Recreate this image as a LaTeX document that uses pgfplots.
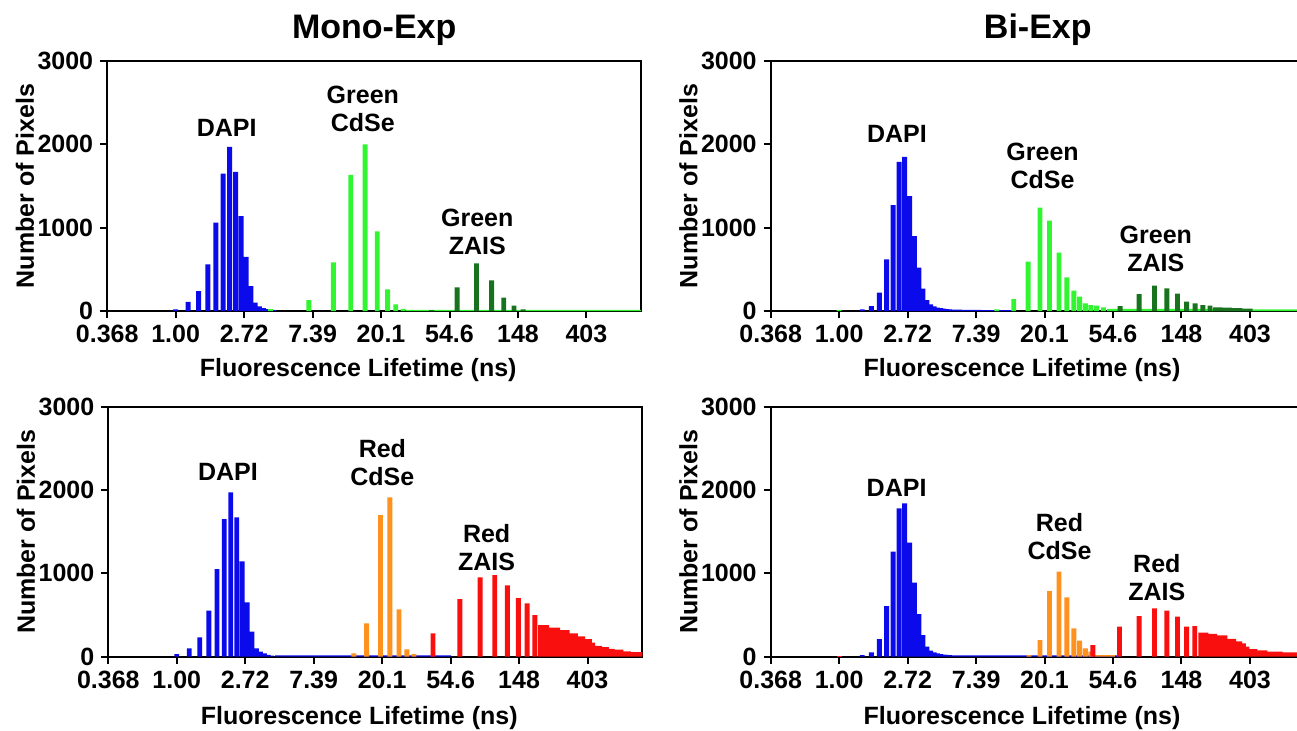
\documentclass[border=0pt]{standalone}
\usepackage{fontspec}
\setmainfont{Liberation Sans}
\usepackage{pgfplots}
\pgfplotsset{compat=1.18}

\definecolor{dapi}{RGB}{10,10,235}
\definecolor{gcdse}{RGB}{50,245,50}
\definecolor{gzais}{RGB}{25,115,30}
\definecolor{rcdse}{RGB}{255,145,30}
\definecolor{rzais}{RGB}{250,15,15}

\newcommand{\lab}{\bfseries\fontsize{12.5}{14}\selectfont}

\tikzset{ann/.style={font=\lab, align=center}}

\pgfplotsset{
  hbar/.style={ybar, bar width=2.45pt, bar shift=0pt, draw=none},
  tailfill/.style={const plot, draw=none},
  flim/.style={
    scale only axis, width=267pt, height=125pt,
    xmin=0.36788, xmax=897.8, ymin=0, ymax=3000,
    xtick={0.36788,1,2.71828,7.38906,20.0855,54.5982,148.413,403.429},
    xticklabels={0.368,1.00,2.72,7.39,20.1,54.6,148,403},
    xminorticks=false,
    ytick={0,1000,2000,3000}, yticklabels={0,1000,2000,3000},
    tick align=outside, xtick pos=left, ytick pos=left,
    major tick length=3.5pt,
    every tick/.style={black, line width=1pt},
    axis line style={line width=1pt},
    tick label style={font=\lab},
    xlabel={Fluorescence Lifetime (ns)},
    ylabel={Number of Pixels},
    every axis x label/.style={at={(axis description cs:0.47,-0.236)}, anchor=center, font=\lab},
    every axis y label/.style={at={(axis description cs:-0.154,0.5)}, rotate=90, anchor=center, font=\lab},
    every axis title/.style={at={(axis description cs:0.5,1.124)}, anchor=center,
      font=\bfseries\fontsize{17}{20}\selectfont},
  },
  % right-hand panels run past the picture's edge, as in the original
  wide/.style={width=272pt, xmax=1039,
    every axis x label/.style={at={(axis description cs:0.462,-0.236)}, anchor=center, font=\lab},
    every axis y label/.style={at={(axis description cs:-0.151,0.5)}, rotate=90, anchor=center, font=\lab},
    every axis title/.style={at={(axis description cs:0.491,1.124)}, anchor=center,
      font=\bfseries\fontsize{17}{20}\selectfont}},
}

\begin{document}
\begin{tikzpicture}
\useasboundingbox (0,0) rectangle (648.5pt,-365pt);

% ---------- Mono-Exp, green ----------
\begin{axis}[xmode=log, flim, at={(53.6pt,-155.5pt)}, title={Mono-Exp}]
\addplot[hbar, fill=dapi] coordinates {
  (1.0,20) (1.2,110) (1.4,240) (1.6,560) (1.8,1060) (2.0,1650) (2.2,1970)
  (2.4,1670) (2.6,1140) (2.8,650) (3.0,300) (3.2,100) (3.4,55) (3.6,35)
  (3.8,22) (4.0,14) (4.2,10)
};
\addplot[tailfill, fill=gcdse] coordinates {(29,15) (900,15)} \closedcycle;
\addplot[hbar, fill=gcdse] coordinates {
  (4.0,24) (7.0,130) (10.0,585) (12.9,1635) (15.9,2000) (19.0,955)
  (22.1,260) (24.9,80) (27.7,25)
};
\addplot[hbar, fill=gzais] coordinates {
  (42,12) (61,285) (81,572) (101,368) (120.5,160) (140,64) (160,20)
};
\node[ann] at (axis cs:2.107,2200) {DAPI};
\node[ann] at (axis cs:15.39,2430) {Green\\CdSe};
\node[ann] at (axis cs:81.9,950) {Green\\ZAIS};
\end{axis}

% ---------- Bi-Exp, green ----------
\begin{axis}[xmode=log, flim, wide, at={(385.35pt,-155.5pt)}, title={Bi-Exp}]
\addplot[hbar, fill=dapi] coordinates {
  (1.4,20) (1.6,60) (1.8,220) (2.0,620) (2.2,1270) (2.4,1790) (2.6,1850)
  (2.8,1380) (3.0,900) (3.2,520) (3.4,270) (3.6,130) (3.8,80) (4.0,55)
  (4.2,42) (4.4,34) (4.6,28) (4.8,24) (5.0,20)
};
\addplot[tailfill, fill=dapi] coordinates {(5.1,18) (6,15) (8,12) (11,10) (13,10)} \closedcycle;
\addplot[tailfill, fill=gcdse] coordinates {(50,25) (250,22) (400,20) (1040,18)} \closedcycle;
\addplot[hbar, fill=gcdse] coordinates {
  (1.0,15) (10.0,20) (12.8,144) (15.8,592) (18.8,1240) (21.6,1084) (24.8,700)
  (27.8,404) (30.8,244) (33.5,172) (36.5,92) (39.5,72) (43,64) (47.5,44)
};
\addplot[hbar, fill=gzais] coordinates {
  (60.6,60) (80,204) (100,304) (120,272) (140,208) (160,112) (181,92)
  (203,72) (225,64)
};
\addplot[tailfill, fill=gzais] coordinates {(235,45) (270,40) (310,34) (360,28) (420,22)} \closedcycle;
\node[ann] at (axis cs:2.326,2130) {DAPI};
\node[ann] at (axis cs:19.51,1745) {Green\\CdSe};
\node[ann] at (axis cs:102,745) {Green\\ZAIS};
\end{axis}

% ---------- Mono-Exp, red ----------
\begin{axis}[xmode=log, flim, at={(54.15pt,-328.35pt)},
  every axis x label/.style={at={(axis description cs:0.47,-0.245)}, anchor=center, font=\lab}]
\addplot[hbar, fill=dapi] coordinates {
  (1.0,32) (1.2,100) (1.4,232) (1.6,552) (1.8,1052) (2.0,1652) (2.2,1972)
  (2.4,1672) (2.6,1144) (2.8,652) (3.0,300) (3.2,100) (3.4,60) (3.6,40)
  (3.8,22) (4.0,14)
};
\addplot[tailfill, fill=dapi] coordinates {(4.2,15) (55,15)} \closedcycle;
\addplot[hbar, fill=rcdse] coordinates {
  (13.3,40) (16.0,400) (19.6,1700) (22.5,1912) (25.7,568) (28.8,88) (32,30)
};
\addplot[hbar, fill=rzais] coordinates {
  (42.2,280) (62.5,692) (84,952) (104,980) (125,856) (147,704) (167,640) (187,500)
};
\addplot[tailfill, fill=rzais] coordinates {
  (196,380) (230,350) (270,320) (310,280) (350,245) (390,210) (430,170)
  (450,130) (500,115) (550,95) (600,85) (680,65) (760,55) (900,45)
} \closedcycle;
\node[ann] at (axis cs:2.113,2213) {DAPI};
\node[ann] at (axis cs:20.15,2324) {Red\\CdSe};
\node[ann] at (axis cs:92.4,1314) {Red\\ZAIS};
\end{axis}

% ---------- Bi-Exp, red ----------
\begin{axis}[xmode=log, flim, wide, at={(385.35pt,-328.35pt)},
  every axis x label/.style={at={(axis description cs:0.462,-0.245)}, anchor=center, font=\lab}]
\addplot[hbar, fill=dapi] coordinates {
  (1.4,20) (1.6,52) (1.8,212) (2.0,608) (2.2,1260) (2.4,1780) (2.6,1840)
  (2.8,1368) (3.0,888) (3.2,512) (3.4,260) (3.6,120) (3.8,72) (4.0,52)
  (4.2,40) (4.4,32) (4.6,26) (4.8,22) (5.0,20)
};
\addplot[tailfill, fill=dapi] coordinates {(5.1,15) (60,15)} \closedcycle;
\addplot[hbar, fill=rzais] coordinates {(1.0,12)};
\addplot[hbar, fill=rcdse] coordinates {
  (16,20) (18.8,200) (21.6,788) (24.8,1020) (27.8,712) (30.8,340) (33.5,192)
  (36.5,100) (39.5,60)
};
\addplot[tailfill, fill=rcdse] coordinates {(42,20) (56,20)} \closedcycle;
\addplot[hbar, fill=rzais] coordinates {
  (40.7,140) (60,360) (80,488) (100,580) (120,552) (140,480) (160,360) (180,368)
};
\addplot[tailfill, fill=rzais] coordinates {
  (190,290) (220,275) (250,255) (290,215) (330,185) (360,160) (380,120)
  (400,90) (450,75) (520,62) (650,52) (800,42) (1040,38)
} \closedcycle;
\node[ann] at (axis cs:2.314,2020) {DAPI};
\node[ann] at (axis cs:25.0,1440) {Red\\CdSe};
\node[ann] at (axis cs:103.5,944) {Red\\ZAIS};
\end{axis}
\end{tikzpicture}
\end{document}
